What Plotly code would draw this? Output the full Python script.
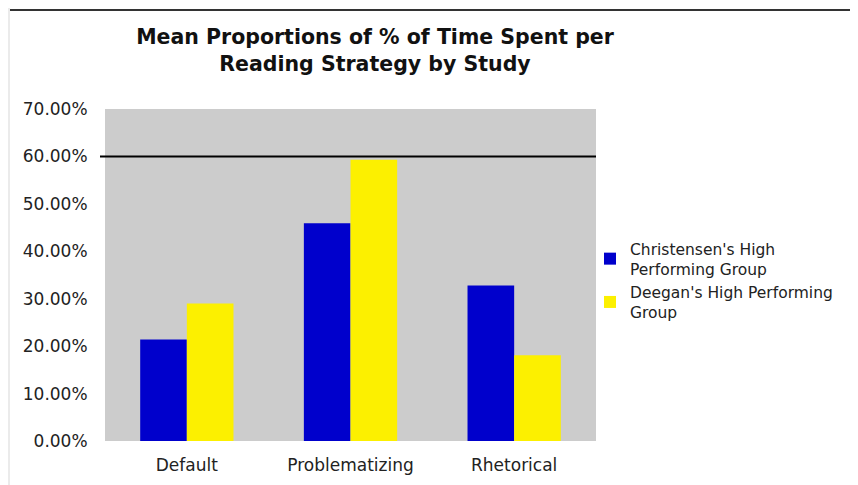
import plotly.graph_objects as go

categories = ["Default", "Problematizing", "Rhetorical"]
christensen = [21.4, 45.9, 32.8]
deegan = [29.0, 59.3, 18.1]
series_names = ["Christensen's High<br>Performing Group", "Deegan's High Performing<br>Group"]
y_tickvals = [0, 10, 20, 30, 40, 50, 60, 70]
y_ticktext = ["0.00%", "10.00%", "20.00%", "30.00%", "40.00%", "50.00%", "60.00%", "70.00%"]
reference_line = 60

W, H = 858, 485
# the page draws the figure 8px in from the window edge
L, R, T, B = 97, 270, 101, 52
pw = W - L - R
ph = H - T - B

def px_x(x):
    return (x - L) / pw

def px_y(y):
    return (H - B - y) / ph

fig = go.Figure()
fig.add_trace(go.Bar(x=categories, y=christensen, name=series_names[0],
                     marker=dict(color="#0000CC", line=dict(width=0))))
fig.add_trace(go.Bar(x=categories, y=deegan, name=series_names[1],
                     marker=dict(color="#FCF000", line=dict(width=0))))

font = "DejaVu Sans, Verdana, sans-serif"
fig.update_layout(
    width=W, height=H,
    margin=dict(l=L, r=R, t=T, b=B, autoexpand=False),
    paper_bgcolor="white", plot_bgcolor="#CCCCCC",
    barmode="group", bargap=0.43, bargroupgap=0,
    font=dict(family=font, color="#222222", size=15),
    title=dict(text="<b>Mean Proportions of % of Time Spent per<br>Reading Strategy by Study</b>",
               x=px_x(367), xref="paper", xanchor="center",
               y=1 - 36 / H, yref="container", yanchor="top",
               font=dict(family=font, size=20.5, color="#111111")),
    xaxis=dict(showgrid=False, zeroline=False, showline=False,
               ticks="outside", ticklen=9, tickcolor="rgba(0,0,0,0)",
               tickfont=dict(size=17, color="#222222")),
    yaxis=dict(range=[0, 70], tickvals=y_tickvals, ticktext=y_ticktext,
               showgrid=False, zeroline=False, showline=False,
               ticks="outside", ticklen=13, tickcolor="rgba(0,0,0,0)",
               tickfont=dict(size=17, color="#222222")),
    legend=dict(x=px_x(582), xanchor="left", y=px_y(224), yanchor="top",
                font=dict(size=15.5, color="#222222"), bgcolor="rgba(0,0,0,0)",
                itemwidth=30, tracegroupgap=2),
    showlegend=True,
)

# reference line at 60%
fig.add_shape(type="line", xref="paper", yref="y",
              x0=px_x(92), x1=1, y0=reference_line, y1=reference_line,
              line=dict(color="black", width=2))
# frame decorations
fig.add_shape(type="line", xref="paper", yref="paper",
              x0=px_x(2), x1=px_x(858), y0=px_y(2), y1=px_y(2),
              line=dict(color="#333333", width=2))
fig.add_shape(type="rect", xref="paper", yref="paper",
              x0=px_x(0), x1=px_x(2), y0=px_y(485), y1=px_y(0),
              fillcolor="#EBEBEB", line=dict(width=0), layer="below")

fig.write_html("out.html")
